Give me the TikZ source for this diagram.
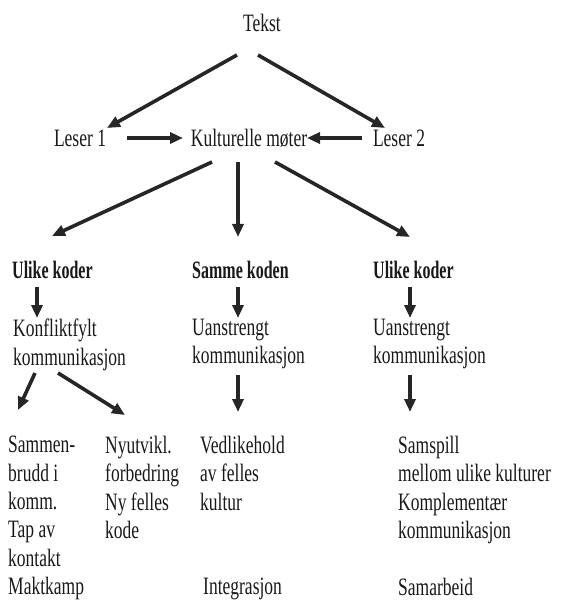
\documentclass[tikz,border=0pt]{standalone}
\usepackage{fontspec}
\setmainfont[FakeStretch=0.7,BoldFeatures={FakeStretch=0.64}]{Liberation Serif}
\usetikzlibrary{arrows.meta}

\begin{document}
\begin{tikzpicture}[x=1pt,y=-1pt,
        txt/.style={inner sep=0pt,font=\fontsize{25}{28.4}\selectfont,text=black!90},
        code/.style={txt,anchor=base west,font=\fontsize{25}{28.4}\selectfont\bfseries},
        blk/.style={txt,align=left,anchor=north west},
        arr/.style={line width=3.6pt,draw=black!85,-{Triangle[length=13pt,width=11pt]}}]
        \useasboundingbox (0,0) rectangle (563,601);

        % top: text, readers and the meeting
        \node[txt,anchor=base] (tekst) at (262,32) {Tekst};
        \node[txt,anchor=base] (leser1) at (80,147) {Leser 1};
        \node[txt,anchor=base] (kult) at (249,147) {Kulturelle møter};
        \node[txt,anchor=base] (leser2) at (399,147) {Leser 2};

        % codes
        \node[code] (ulike1) at (12,278) {Ulike koder};
        \node[code] (samme) at (192,278) {Samme koden};
        \node[code] (ulike2) at (373,278) {Ulike koder};

        % kinds of communication
        \node[blk] (konf) at (13,319) {Konfliktfylt\\kommunikasjon};
        \node[blk] (uan1) at (192,319) {Uanstrengt\\kommunikasjon};
        \node[blk] (uan2) at (373,319) {Uanstrengt\\kommunikasjon};

        % results
        \node[blk] (brudd) at (8,436) {Sammen-\\brudd i\\komm.\\Tap av\\kontakt\\Maktkamp};
        \node[blk] (nyutv) at (105,436) {Nyutvikl.\\forbedring\\Ny felles\\kode};
        \node[blk] (vedl) at (200,436) {Vedlikehold\\av felles\\kultur};
        \node[blk] (integ) at (203,578) {Integrasjon};
        \node[blk] (samsp) at (398,436) {Samspill\\mellom ulike kulturer\\Komplementær\\kommunikasjon};
        \node[blk] (samarb) at (398,578) {Samarbeid};

        \draw[arr] ([shift={(-25,23)}]tekst.base) -- ([shift={(27,-19)}]leser1.base);
        \draw[arr] ([shift={(-4,23)}]tekst.base) -- ([shift={(-14,-19)}]leser2.base);
        \draw[arr] ([shift={(47,-9)}]leser1.base) -- ([shift={(-66,-9)}]kult.base);
        \draw[arr] ([shift={(-37,-9)}]leser2.base) -- ([shift={(58,-9)}]kult.base);

        \draw[arr] ([shift={(-37,15)}]kult.base) -- ([shift={(40,-42)}]ulike1.base west);
        \draw[arr] ([shift={(-11,15)}]kult.base) -- ([shift={(46,-41)}]samme.base west);
        \draw[arr] ([shift={(26,15)}]kult.base) -- ([shift={(37,-41)}]ulike2.base west);

        \draw[arr] ([shift={(25,9)}]ulike1.base west) -- ([shift={(24,-1)}]konf.north west);
        \draw[arr] ([shift={(46,9)}]samme.base west) -- ([shift={(46,-1)}]uan1.north west);
        \draw[arr] ([shift={(37,9)}]ulike2.base west) -- ([shift={(37,-1)}]uan2.north west);

        \draw[arr] ([shift={(22,54)}]konf.north west) -- ([shift={(10,-26)}]brudd.north west);
        \draw[arr] ([shift={(45,54)}]konf.north west) -- ([shift={(20,-21)}]nyutv.north west);
        \draw[arr] ([shift={(46,56)}]uan1.north west) -- ([shift={(38,-24)}]vedl.north west);
        \draw[arr] ([shift={(37,56)}]uan2.north west) -- ([shift={(12,-24)}]samsp.north west);
\end{tikzpicture}
\end{document}
